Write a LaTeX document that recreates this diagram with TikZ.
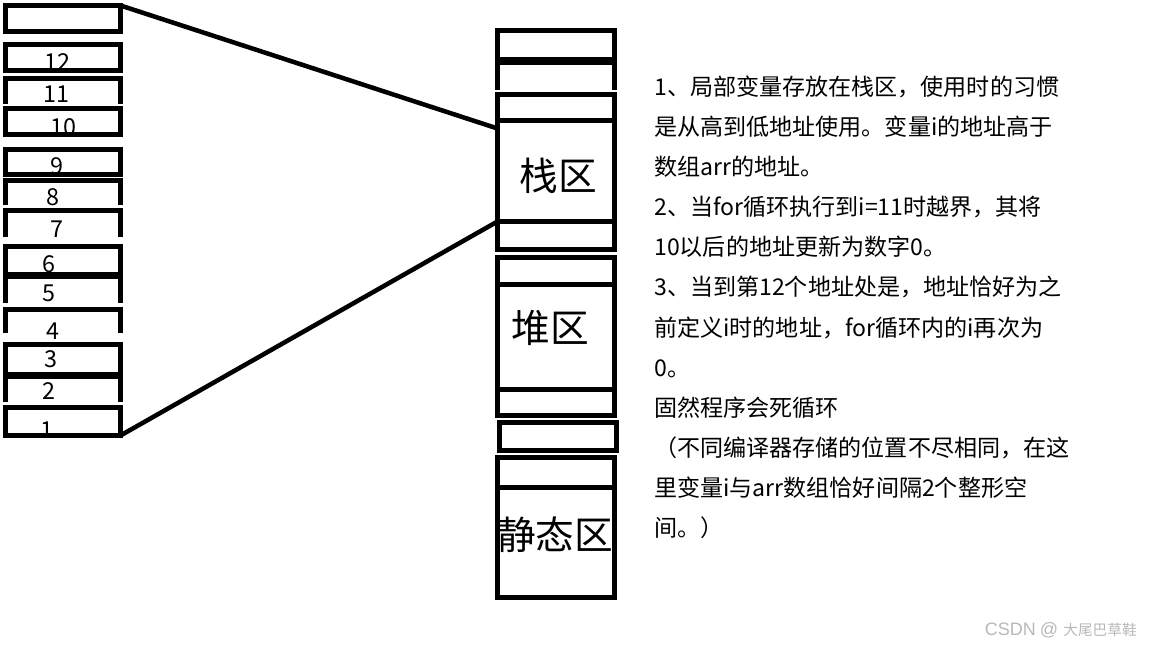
\documentclass[tikz,border=0pt]{standalone}
\usepackage{fontspec}
\newfontfamily\cjk{Noto Sans CJK SC}
\newfontfamily\latin{Liberation Sans}

\begin{document}
\begin{tikzpicture}[
  x=0.75pt, y=-0.75pt,
  slot/.style={inner sep=0pt, outer sep=0pt, minimum width=86.25pt},
  midslot/.style={inner sep=0pt, outer sep=0pt, minimum width=87.75pt},
  zonetext/.style={font=\cjk\fontsize{29}{32}\selectfont, inner sep=0pt},
  rim/.style={line width=3.75pt},
  wire/.style={line width=3.4pt},
  num/.style={font=\cjk\fontsize{17.5}{20}\selectfont, inner sep=0pt},
  note/.style={font=\cjk\fontsize{17.3}{20}\selectfont, anchor=base west, inner sep=0pt},
  watermark/.style={font=\cjk\fontsize{11}{14}\selectfont, text=gray!55, inner sep=0pt},
]

\path[use as bounding box, fill=white] (0,0) rectangle (1152,648);

% arr cells, left
\node[slot, minimum height=19.5pt] (c0) at (63,18.5) {};
\draw[rim] (c0.south west) rectangle (c0.north east);
\foreach \lab/\ya/\yb/\lx/\ly/\opn in {
  12/44.5/70.5/57.5/62.5/0, 11/78.5/104/56/94/1, 10/108.5/134.5/63/127.5/0,
  9/149.5/174.5/57/166/0, 8/180.5/205/52.5/197/1, 7/210.5/237/57/229/1,
  6/246.5/274.5/49/264/0, 5/276.5/303/49/293/1, 4/309.5/333/52.5/331/1,
  3/344.5/374.5/50.5/359/0, 2/376.5/402/49/391/1, 1/407.5/435.5/47/430/0}
{
  \node[num] (n\lab) at (\lx,\ly) {\lab};
  \node[slot, minimum height={(\yb-\ya)*0.75pt}] (c\lab) at (63,{(\ya+\yb)/2}) {};
  \ifnum\opn=1
    \draw[rim] (c\lab.south west) |- (c\lab.north east) -- (c\lab.south east);
  \else
    \draw[rim] (c\lab.south west) rectangle (c\lab.north east);
  \fi
}

% memory areas, middle
\foreach \nm/\xc/\ya/\yb/\opn in {
  ma/556/30.5/59.5/0, mb/556/62.5/90/1, mc/556/94.5/120.5/0,
  stack/556/120.5/221.5/0, md/556/221.5/249.5/0, me/556/257.5/284.5/0,
  heap/556/284.5/389.5/0, mf/556/389.5/415.5/0, mg/558/422.5/450.5/0,
  mh/556/457.5/487.5/0, static/556/487.5/597.5/0}
{
  \node[midslot, minimum height={(\yb-\ya)*0.75pt}] (\nm) at (\xc,{(\ya+\yb)/2}) {};
  \ifnum\opn=1
    \draw[rim] (\nm.south west) |- (\nm.north east) -- (\nm.south east);
  \else
    \draw[rim] (\nm.south west) rectangle (\nm.north east);
  \fi
}
\node[zonetext] (stacklabel) at (558,176) {栈区};
\node[zonetext] (heaplabel) at (550,328) {堆区};
\node[zonetext] (staticlabel) at (555,535) {静态区};

% zoom lines
\draw[wire] (c0.north east) -- ([yshift=-6pt]stack.north west);
\draw[wire] (c1.south east) -- (stack.south west);

% explanation
\foreach \i/\txt in {
  1/1、局部变量存放在栈区，使用时的习惯,
  2/是从高到低地址使用。变量i的地址高于,
  3/数组arr的地址。,
  4/2、当for循环执行到i=11时越界，其将,
  5/10以后的地址更新为数字0。,
  6/3、当到第12个地址处是，地址恰好为之,
  7/前定义i时的地址，for循环内的i再次为,
  8/0。,
  9/固然程序会死循环,
  10/（不同编译器存储的位置不尽相同，在这,
  11/里变量i与arr数组恰好间隔2个整形空,
  12/间。）}
{
  \node[note] (t\i) at (654,{96+40*(\i-1)}) {\txt};
}

\node[watermark, anchor=east] (wm) at (1137,630)
  {{\latin\fontsize{13.5}{14}\selectfont CSDN\hspace{3pt}@\hspace{4pt}}大尾巴草鞋};

\end{tikzpicture}
\end{document}
